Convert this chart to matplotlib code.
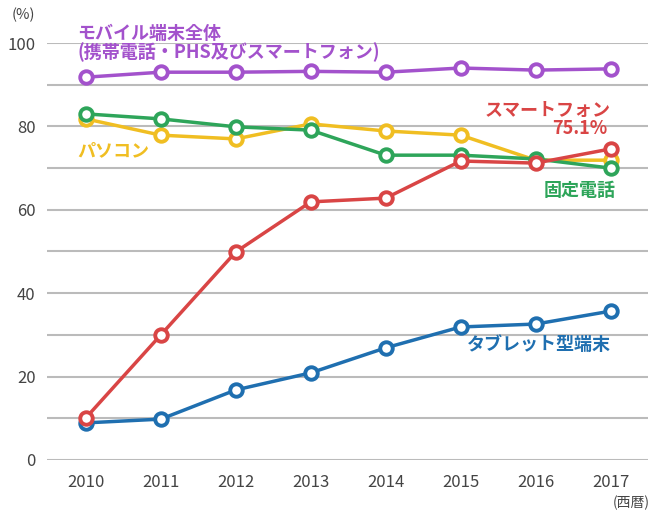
import numpy as np
import matplotlib
matplotlib.use("Agg")
import matplotlib.pyplot as plt

plt.rcParams['font.family'] = ['Noto Sans CJK JP', 'DejaVu Sans']

years = [2010, 2011, 2012, 2013, 2014, 2015, 2016, 2017]

mobile = [91.8, 93.0, 93.0, 93.2, 93.0, 94.0, 93.5, 93.8]
pc = [81.8, 77.9, 77.0, 80.6, 78.9, 77.9, 71.9, 71.9]
landline = [83.0, 81.8, 79.9, 79.1, 73.1, 73.1, 72.2, 70.0]
smartphone = [10.1, 30.0, 49.9, 61.9, 62.8, 71.7, 71.2, 74.6]
tablet = [8.9, 9.8, 16.8, 20.9, 26.9, 31.9, 32.6, 35.7]

yticks = [0, 20, 40, 60, 80, 100]

c_mobile = '#A352CC'
c_pc = '#F0BE22'
c_land = '#2EA55A'
c_smart = '#D94545'
c_tab = '#1F6FB0'

fig = plt.figure(figsize=(6.6, 5.2), dpi=100)
ax = fig.add_axes([0.071, 0.1154, 0.911, 0.8019])

series = [(mobile, c_mobile), (pc, c_pc), (landline, c_land),
          (tablet, c_tab), (smartphone, c_smart)]
for vals, col in series:
    ax.plot(years, vals, color=col, lw=2.5, marker='o', ms=9,
            mfc='white', mec=col, mew=2.8, clip_on=False, zorder=3)

ax.set_xlim(2009.48, 2017.5)
ax.set_ylim(0, 100)
ax.set_yticks(range(0, 101, 10))
ax.set_yticklabels([str(v) if v in yticks else '' for v in range(0, 101, 10)])
ax.set_xticks(years)
ax.grid(axis='y', color='#BBBBBB', lw=1.5)
ax.set_axisbelow(True)
for s in ax.spines.values():
    s.set_visible(False)
ax.tick_params(length=0, labelsize=12, colors='#444444')
ax.tick_params(axis='x', pad=10)
ax.tick_params(axis='y', pad=8)

fig.text(0.018, 0.985, '(%)', fontsize=10.5, color='#444444', va='top')
fig.text(0.985, 0.033, '(西暦)', fontsize=10, color='#444444', ha='right', va='center')

kw = dict(fontsize=13, fontweight='bold', clip_on=False)
ax.text(2009.89, 102.4, 'モバイル端末全体', color=c_mobile, va='center', **kw)
ax.text(2009.89, 97.8, '(携帯電話・PHS及びスマートフォン)', color=c_mobile,
        va='center', **kw)
ax.text(2009.89, 74.1, 'パソコン', color=c_pc, va='center', **kw)
ax.text(2017.0, 83.9, 'スマートフォン', color=c_smart, va='center', ha='right', **kw)
ax.text(2016.96, 79.4, '75.1%', color=c_smart, va='center', ha='right', **kw)
ax.text(2017.07, 64.7, '固定電話', color=c_land, va='center', ha='right', **kw)
ax.text(2017.0, 27.6, 'タブレット型端末', color=c_tab, va='center', ha='right', **kw)

fig.savefig('out.png', dpi=100)
